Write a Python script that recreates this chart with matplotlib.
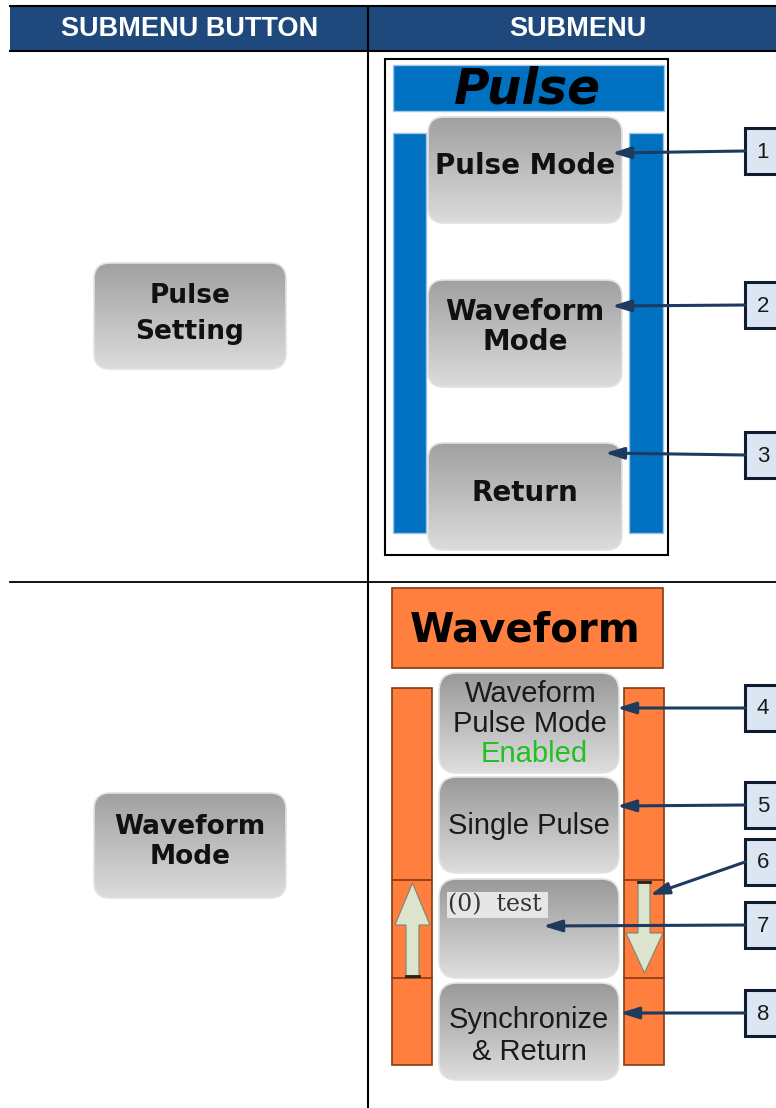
import matplotlib
matplotlib.use("Agg")
import matplotlib.pyplot as plt
import numpy as np
from matplotlib.patches import FancyBboxPatch, Rectangle, Polygon

# ---------------- content ----------------
header_labels = ["SUBMENU BUTTON", "SUBMENU"]
row_buttons = ["Pulse\nSetting", "Waveform\nMode"]
pulse_title = "Pulse"
pulse_items = ["Pulse Mode", "Waveform\nMode", "Return"]
wave_title = "Waveform"
wave_item1_lines = ["Waveform", "Pulse Mode", "Enabled"]
wave_items = ["Single Pulse", "(0)  test", "Synchronize\n& Return"]
callout_numbers = ["1", "2", "3", "4", "5", "6", "7", "8"]

ARIAL = ["Liberation Sans", "DejaVu Sans"]

W, H = 776, 1108
fig = plt.figure(figsize=(W / 100, H / 100), dpi=100)
ax = fig.add_axes([0, 0, 1, 1])
ax.set_xlim(0, W)
ax.set_ylim(H, 0)
ax.axis("off")

NAVY = "#1F3A5F"
BLUE = "#0070C0"
ORANGE = "#FF7F3F"
ORANGE_EDGE = "#8A3A12"


def gbutton(x0, y0, x1, y1, r=16, top=(0.63, 0.63, 0.63), bot=(0.86, 0.86, 0.86)):
    patch = FancyBboxPatch((x0, y0), x1 - x0, y1 - y0,
                           boxstyle=f"round,pad=0,rounding_size={r}",
                           facecolor="none", edgecolor="#E2E2E2", lw=1.2, zorder=3)
    ax.add_patch(patch)
    t = np.linspace(0, 1, 128)[:, None]
    col = np.array(top)[None, None, :] * (1 - t[..., None]) + np.array(bot)[None, None, :] * t[..., None]
    col = np.repeat(col, 4, axis=1)
    im = ax.imshow(col, extent=(x0, x1, y0, y1), origin="lower", aspect="auto",
                   zorder=2, interpolation="bilinear")
    im.set_clip_path(patch)


def callout(num, y, tip, start=None):
    ax.add_patch(Rectangle((745, y - 23), 45, 46, facecolor="#DCE6F2",
                           edgecolor="#0F1B30", lw=2.2, zorder=5, clip_on=False))
    ax.text(763, y + 1, num, ha="center", va="center", fontsize=16,
            family=ARIAL, color="#1A1A1A", zorder=6)
    sx, sy = start if start else (745, y)
    ax.annotate("", xy=tip, xytext=(sx, sy),
                arrowprops=dict(arrowstyle="-|>,head_length=0.8,head_width=0.25",
                                color=NAVY, lw=2.2, shrinkA=0, shrinkB=0,
                                mutation_scale=14), zorder=7)


# ---------------- table frame ----------------
ax.add_patch(Rectangle((10, 6), W - 10, 45, facecolor="#1F497D", edgecolor="none", zorder=1))
ax.plot([10, W], [6, 6], color="black", lw=1.5, zorder=2)
ax.plot([10, W], [51, 51], color="black", lw=1.5, zorder=2)
ax.plot([368, 368], [6, H], color="black", lw=1.5, zorder=2)
ax.plot([10, W], [582, 582], color="black", lw=1.3, zorder=2)
ax.text(190, 29, header_labels[0], ha="center", va="center", color="white",
        fontsize=19.5, fontweight="bold", family=ARIAL, zorder=3)
ax.text(578, 29, header_labels[1], ha="center", va="center", color="white",
        fontsize=19.5, fontweight="bold", family=ARIAL, zorder=3)

# ---------------- left column buttons ----------------
gbutton(94, 263, 286, 369)
ax.text(190, 314, row_buttons[0], ha="center", va="center", fontsize=19,
        fontweight="bold", color="#111111", linespacing=1.5, zorder=4)
gbutton(94, 793, 286, 898)
ax.text(190, 842, row_buttons[1], ha="center", va="center", fontsize=19,
        fontweight="bold", color="#111111", linespacing=1.15, zorder=4)

# ---------------- Pulse panel ----------------
ax.add_patch(Rectangle((385, 59), 283, 496, facecolor="white", edgecolor="black", lw=1.5, zorder=1))
ax.add_patch(Rectangle((393, 65), 271, 46, facecolor=BLUE, edgecolor="#9DC3E6", lw=1, zorder=2))
ax.text(528, 89, pulse_title, ha="center", va="center", fontsize=35,
        fontweight="bold", style="italic", color="black", zorder=3)
ax.add_patch(Rectangle((393, 133), 33, 400, facecolor=BLUE, edgecolor="#9DC3E6", lw=1, zorder=2))
ax.add_patch(Rectangle((629, 133), 34, 400, facecolor=BLUE, edgecolor="#9DC3E6", lw=1, zorder=2))

pulse_boxes = [(117, 223), (280, 387), (443, 550)]
pulse_text_y = [166, 327, 493]
for (y0, y1), lab, ty in zip(pulse_boxes, pulse_items, pulse_text_y):
    gbutton(428, y0, 622, y1)
    ax.text(525, ty, lab, ha="center", va="center", fontsize=20, fontweight="bold",
            color="#111111", linespacing=1.05, zorder=4)

callout(callout_numbers[0], 151, (612, 153))
callout(callout_numbers[1], 305, (612, 306))
callout(callout_numbers[2], 455, (605, 453))

# ---------------- Waveform panel ----------------
ax.add_patch(Rectangle((392, 588), 271, 80, facecolor=ORANGE, edgecolor=ORANGE_EDGE, lw=1.2, zorder=2))
ax.text(525, 631, wave_title, ha="center", va="center", fontsize=29,
        fontweight="bold", color="black", zorder=3)

for bx, bw in [(392, 40), (624, 40)]:
    ax.add_patch(Rectangle((bx, 688), bw, 377, facecolor=ORANGE, edgecolor=ORANGE_EDGE, lw=1.2, zorder=2))
    for yy in (880, 978):
        ax.plot([bx, bx + bw], [yy, yy], color=ORANGE_EDGE, lw=1.2, zorder=3)

ARW = "#DDE4CE"
ax.add_patch(Polygon([(412.5, 883), (430, 925), (419, 925), (419, 976), (406, 976),
                      (406, 925), (395, 925)], closed=True, facecolor=ARW,
                     edgecolor="#7F8570", lw=0.8, zorder=4))
ax.plot([406, 419], [976, 976], color="#222222", lw=2, zorder=5)
ax.add_patch(Polygon([(638, 882), (650, 882), (650, 933), (663, 933), (644.5, 973),
                      (626, 933), (638, 933)], closed=True, facecolor=ARW,
                     edgecolor="#7F8570", lw=0.8, zorder=4))
ax.plot([638, 650], [882, 882], color="#222222", lw=2, zorder=5)

wave_boxes = [(673, 773), (777, 873), (879, 978), (983, 1080)]
for y0, y1 in wave_boxes:
    gbutton(439, y0, 619, y1, r=18, top=(0.60, 0.60, 0.60), bot=(0.87, 0.87, 0.87))

WFS = 21
ax.text(531, 694, wave_item1_lines[0], ha="center", va="center", fontsize=WFS, family=ARIAL, color="#1A1A1A", zorder=4)
ax.text(530, 724, wave_item1_lines[1], ha="center", va="center", fontsize=WFS, family=ARIAL, color="#1A1A1A", zorder=4)
ax.text(534, 754, wave_item1_lines[2], ha="center", va="center", fontsize=WFS, family=ARIAL, color="#22C022", zorder=4)
ax.text(529, 826, wave_items[0], ha="center", va="center", fontsize=WFS, family=ARIAL, color="#1A1A1A", zorder=4)
ax.add_patch(Rectangle((447, 892), 101, 26, facecolor="#E6E6E6", edgecolor="none", zorder=3.5))
ax.text(448, 905, wave_items[1], ha="left", va="center", fontsize=17,
        family="DejaVu Serif", color="#333333", zorder=4)
ax.text(529, 1036, wave_items[2], ha="center", va="center", fontsize=WFS, family=ARIAL,
        color="#1A1A1A", linespacing=1.2, zorder=4)

callout(callout_numbers[3], 708, (617, 708))
callout(callout_numbers[4], 805, (617, 806))
callout(callout_numbers[5], 862, (650, 895), start=(745, 862))
callout(callout_numbers[6], 925, (543, 926))
callout(callout_numbers[7], 1013, (620, 1013))

fig.savefig("out.png", dpi=100)
